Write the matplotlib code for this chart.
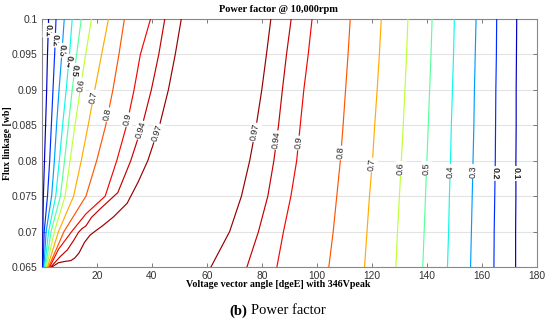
import numpy as np
import matplotlib
matplotlib.use("Agg")
import matplotlib.pyplot as plt

# Niveles de factor de potencia
levels = [0.1, 0.2, 0.3, 0.4, 0.5, 0.6, 0.7, 0.8, 0.9, 0.94, 0.97]
level_text = ["0.1", "0.2", "0.3", "0.4", "0.5", "0.6", "0.7", "0.8", "0.9", "0.94", "0.97"]

# Alturas (flux linkage) donde se leyeron los contornos
y_flux = [0.065, 0.070, 0.075, 0.080, 0.085, 0.090, 0.095, 0.100]

# Rama derecha (angulos altos), x para cada y_flux
right_010 = [172.4, 172.4, 172.5, 172.5, 172.6, 172.6, 172.7, 172.8]
right_020 = [164.5, 164.6, 164.8, 165.0, 165.1, 165.2, 165.4, 165.5]
right_030 = [156.0, 156.3, 156.6, 156.9, 157.2, 157.4, 157.7, 158.0]
right_040 = [147.6, 148.0, 148.3, 148.7, 149.0, 149.4, 149.8, 150.1]
right_050 = [138.6, 139.1, 139.6, 140.1, 140.6, 141.1, 141.6, 142.0]
right_060 = [128.8, 129.4, 130.1, 130.8, 131.5, 132.1, 132.7, 133.2]
right_070 = [117.4, 118.3, 119.2, 120.3, 121.1, 122.0, 122.8, 123.5]
right_080 = [104.4, 106.0, 107.3, 108.6, 109.6, 110.5, 111.4, 112.2]
right_090 = [85.5, 87.9, 90.6, 92.7, 94.0, 95.3, 96.9, 98.3]
right_094 = [74.6, 78.8, 82.2, 84.4, 86.1, 87.5, 89.0, 90.7]
right_097 = [61.5, 68.3, 72.6, 75.6, 78.0, 80.0, 81.7, 83.3]

# Rama izquierda (angulos bajos), x para cada y_flux
left_010 = [0.2, 0.3, 0.5, 0.9, 1.3, 1.7, 2.0, 2.4]
left_020 = [0.4, 0.8, 2.0, 2.8, 3.4, 4.0, 4.6, 5.1]
left_030 = [0.7, 1.5, 3.5, 4.5, 5.3, 6.2, 7.2, 8.1]
left_040 = [1.0, 2.4, 5.0, 6.3, 7.5, 8.8, 10.0, 11.0]
left_050 = [1.3, 3.3, 6.7, 8.2, 9.6, 11.0, 12.6, 14.3]
left_060 = [1.6, 4.5, 8.4, 10.2, 12.0, 13.9, 15.9, 18.0]
left_070 = [2.0, 6.0, 11.5, 14.3, 16.8, 19.2, 21.7, 24.2]
left_080 = [2.4, 8.0, 16.0, 19.9, 23.2, 25.8, 28.0, 30.0]

# Ramas izquierdas con quiebres (puntos propios)
left_090_x = [2.8, 6.0, 10.8, 16.0, 23.0, 27.2, 30.8, 33.5, 35.8, 39.5]
left_090_y = [0.065, 0.0675, 0.070, 0.0725, 0.075, 0.080, 0.085, 0.090, 0.095, 0.100]
left_094_x = [3.2, 6.7, 9.2, 11.6, 13.3, 14.5, 16.0, 18.0, 22.0, 27.6, 32.3, 36.5, 39.8, 42.5, 44.7]
left_094_y = [0.065, 0.0665, 0.0674, 0.0688, 0.0699, 0.0704, 0.0708, 0.0720, 0.0735, 0.0755,
              0.080, 0.085, 0.090, 0.095, 0.100]
left_097_x = [3.6, 6.0, 8.5, 10.5, 12.0, 13.5, 15.5, 17.5, 19.5, 22.0, 26.1, 31.0, 35.0,
              38.5, 42.8, 46.0, 48.5, 50.7]
left_097_y = [0.065, 0.0656, 0.0658, 0.0659, 0.0663, 0.0670, 0.0685, 0.0695, 0.0701, 0.0708,
              0.0721, 0.0740, 0.0770, 0.0800, 0.0850, 0.0900, 0.0950, 0.1000]

left_x = [left_010, left_020, left_030, left_040, left_050, left_060, left_070, left_080,
          left_090_x, left_094_x, left_097_x]
left_y = [y_flux] * 8 + [left_090_y, left_094_y, left_097_y]
right_x = [right_010, right_020, right_030, right_040, right_050, right_060, right_070,
           right_080, right_090, right_094, right_097]

# Posicion en el mapa jet de cada nivel (estilo)
jet_pos = [0.06, 0.17, 0.28, 0.37, 0.46, 0.58, 0.73, 0.82, 0.90, 0.94, 0.98]

# Altura de las etiquetas sobre cada rama
left_label_y = [0.0984, 0.0970, 0.0956, 0.0940, 0.0928, 0.0907, 0.0890, 0.0865, 0.0858, 0.0843, 0.0839]
right_label_y = [0.0782, 0.0782, 0.0785, 0.0785, 0.0789, 0.0789, 0.0794, 0.0811, 0.0825, 0.0829, 0.0840]
left_bold = [True] * 5 + [False] * 6
right_bold = [True] * 2 + [False] * 9

serif = "Liberation Serif"
sans = "Liberation Sans"

fig = plt.figure(figsize=(5.5, 3.27), dpi=100)
ax = fig.add_axes([42 / 550, 1 - 267 / 327, 494.5 / 550, 248 / 327])
ax.set_xlim(0, 180)
ax.set_ylim(0.065, 0.1)

cmap = plt.cm.jet

for i, lev in enumerate(levels):
    col = cmap(jet_pos[i])
    ax.plot(left_x[i], left_y[i], color=col, lw=0.85, zorder=3)
    ax.plot(right_x[i], y_flux, color=col, lw=0.85, zorder=3)


def put_label(xs, ys, yl, text, bold):
    xl = np.interp(yl, ys, xs)
    p0 = ax.transData.transform((np.interp(yl - 0.001, ys, xs), yl - 0.001))
    p1 = ax.transData.transform((np.interp(yl + 0.001, ys, xs), yl + 0.001))
    ang = np.degrees(np.arctan2(p1[1] - p0[1], p1[0] - p0[0]))
    if bold:
        ang = ang - 180
    ax.text(xl, yl, text, rotation=ang, rotation_mode="anchor", ha="center", va="center",
            fontsize=6.5, family=sans, color="#222222",
            fontweight="bold" if bold else "normal", zorder=5,
            bbox=dict(boxstyle="square,pad=0.12", fc="white", ec="none"))


for i in range(len(levels)):
    put_label(left_x[i], left_y[i], left_label_y[i], level_text[i], left_bold[i])
    put_label(right_x[i], y_flux, right_label_y[i], level_text[i], right_bold[i])

# Ejes estilo MATLAB
ax.set_xticks([20, 40, 60, 80, 100, 120, 140, 160, 180])
ax.set_yticks(y_flux)
ax.set_yticklabels(["0.065", "0.07", "0.075", "0.08", "0.085", "0.09", "0.095", "0.1"])
ax.tick_params(direction="in", length=3, width=0.6, color="#666666", top=True, right=True,
               labelsize=7.4, labelcolor="#333333", pad=3)
for lab in ax.get_xticklabels() + ax.get_yticklabels():
    lab.set_family(sans)
for s in ax.spines.values():
    s.set_color("#888888")
    s.set_linewidth(0.8)
ax.yaxis.grid(True, color="#e3e3e3", lw=0.8)
ax.set_axisbelow(True)

ax.set_title("Power factor @ 10,000rpm", fontsize=7.5, fontweight="bold", family=serif,
             x=0.478, pad=5)
ax.set_xlabel("Voltage vector angle [dgeE] with 346Vpeak", fontsize=7.2, fontweight="bold",
              family=serif)
ax.xaxis.set_label_coords(0.478, -0.052)
ax.set_ylabel("Flux linkage [wb]", fontsize=7.0, fontweight="bold", family=serif)
ax.yaxis.set_label_coords(-0.061, 0.5)

# Pie de figura
fig.text(247 / 550, 0.049, "(b)", fontsize=10.5, fontweight="bold", family=serif,
         ha="right", va="center")
fig.text(251 / 550, 0.049, "Power factor", fontsize=10.5, family=serif, ha="left", va="center")

fig.savefig("out.png", dpi=100, facecolor="white")
